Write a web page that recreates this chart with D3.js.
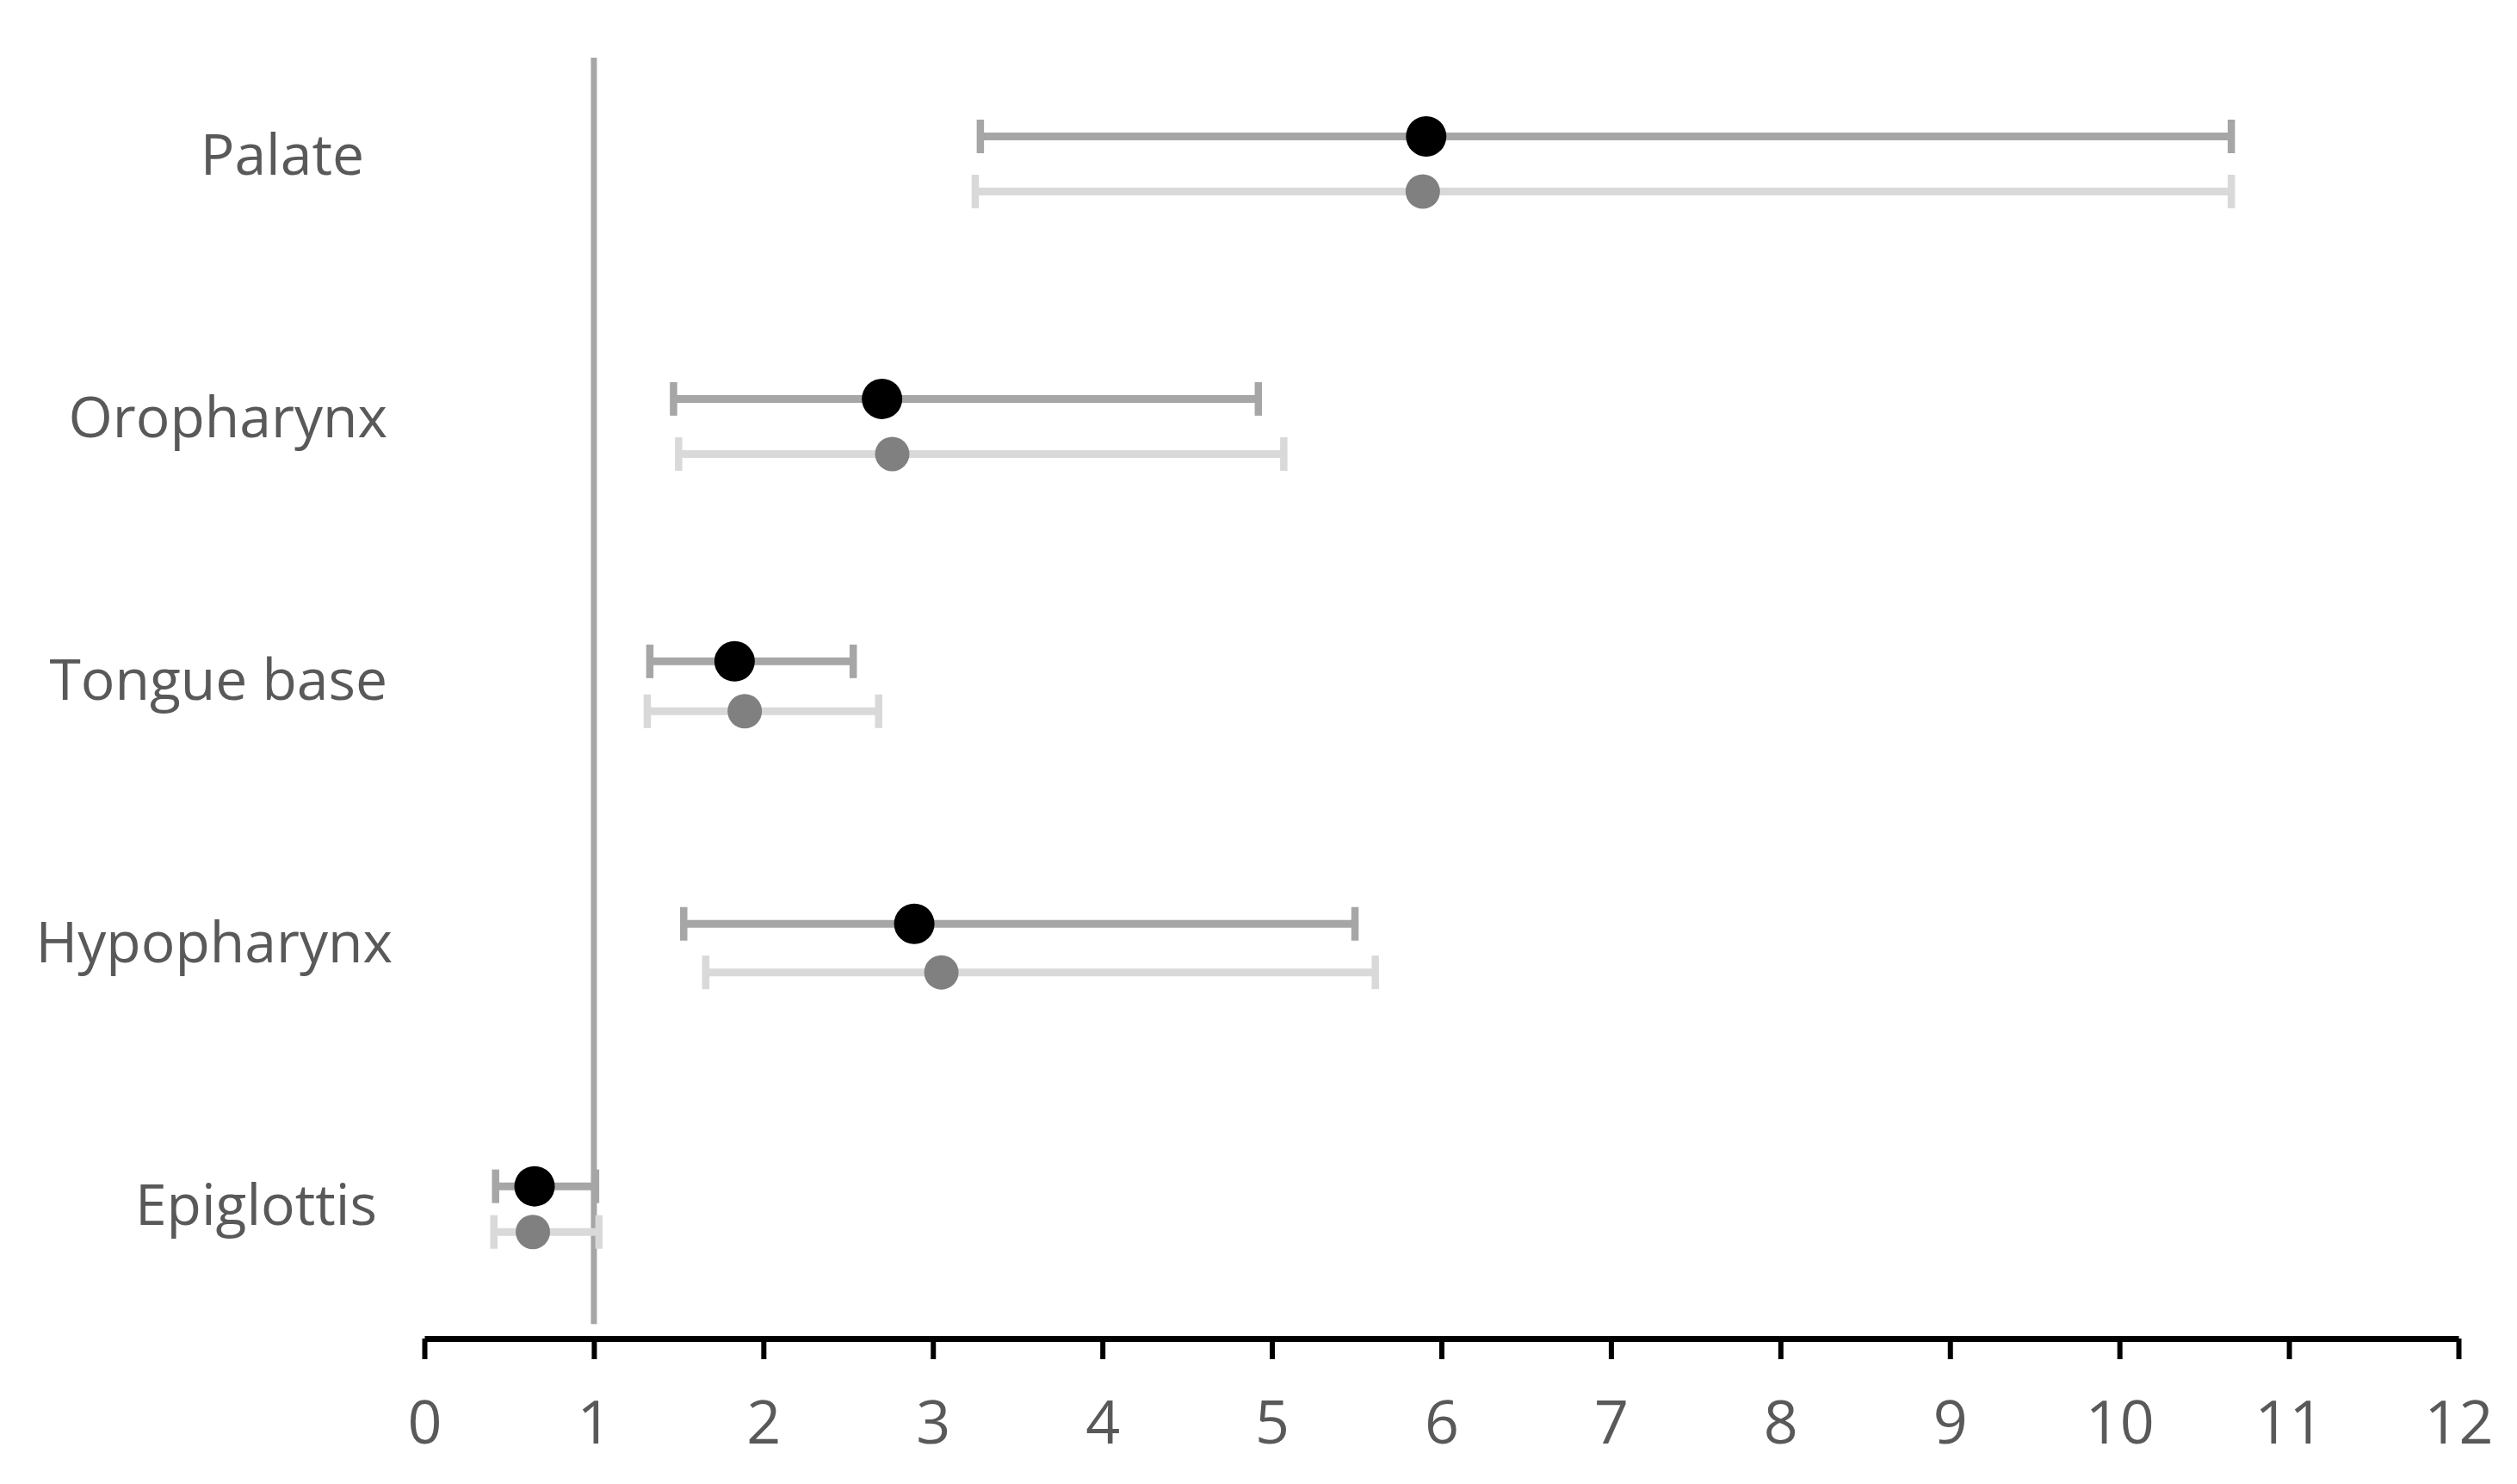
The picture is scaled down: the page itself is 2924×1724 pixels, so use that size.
<!DOCTYPE html>
<html>
<head>
<meta charset="utf-8">
<script src="https://cdn.jsdelivr.net/npm/d3@7"></script>
<style>
  body { margin: 0; background: #fff; }
  text { font-family: "Open Sans", "Noto Sans", sans-serif; fill: #595959; }
</style>
</head>
<body>
<div id="chart"></div>
<script>
// Sites, top to bottom
const sites = ["Palate", "Oropharynx", "Tongue base", "Hypopharynx", "Epiglottis"];

// Row positions on the y scale (scatter values of the original chart)
const rowDark  = [5, 4, 3, 2, 1];
const rowLight = [4.79, 3.79, 2.81, 1.815, 0.826];

// First series (black points, darker bars)
const darkEst = [5.91, 2.70, 1.83, 2.89, 0.65];
const darkLo  = [3.28, 1.47, 1.33, 1.53, 0.42];
const darkHi  = [10.66, 4.92, 2.53, 5.49, 1.01];

// Second series (grey points, lighter bars)
const lightEst = [5.89, 2.76, 1.89, 3.05, 0.64];
const lightLo  = [3.25, 1.50, 1.315, 1.66, 0.41];
const lightHi  = [10.66, 5.07, 2.68, 5.61, 1.03];

const xTicks = [0, 1, 2, 3, 4, 5, 6, 7, 8, 9, 10, 11, 12];
const refValue = 1;

const config = {
  width      : 2924,
  height     : 1724,
  xRange     : [493, 2856],
  yRange     : [1555, 67],
  yDomain    : [0.42, 5.3],
  refBottom  : 0.475,
  tickFont   : 70,
  labelFont  : 66,
  labelRight : 450,
  labelShift : { "Palate": -27, "Epiglottis": -12, "Hypopharynx": 6 },
  capHalf    : 19.5,
  barWidth   : 9,
  capWidth   : 8.5,
};

const svg = d3.select("#chart")
  .append("svg")
    .attr("width", config.width)
    .attr("height", config.height);

const x = d3.scaleLinear().domain([0, 12]).range(config.xRange);
const y = d3.scaleLinear().domain(config.yDomain).range(config.yRange);

// reference line at 1
svg.append("line")
  .attr("x1", x(refValue)).attr("x2", x(refValue))
  .attr("y1", y(config.yDomain[1])).attr("y2", y(config.refBottom))
  .attr("stroke", "#a6a6a6")
  .attr("stroke-width", 7);

// x axis
const xAxis = svg.append("g")
  .attr("transform", "translate(0," + y(config.yDomain[0]) + ")")
  .call(d3.axisBottom(x).tickValues(xTicks).tickSize(24).tickSizeOuter(0).tickPadding(48));

xAxis.select(".domain")
  .attr("stroke", "#000")
  .attr("stroke-width", 7);
xAxis.selectAll(".tick line")
  .attr("stroke", "#000")
  .attr("stroke-width", 6);
xAxis.selectAll(".tick text")
  .attr("fill", "#595959")
  .style("font-size", config.tickFont + "px")
  .style("font-family", "\"Open Sans\", sans-serif");

// site labels
svg.selectAll(".site")
  .data(sites)
  .enter()
  .append("text")
    .attr("class", "site")
    .attr("x", function(d) { return config.labelRight + (config.labelShift[d] || 0) })
    .attr("y", function(d, i) { return y(rowDark[i]) + 45 })
    .attr("text-anchor", "end")
    .style("font-size", config.labelFont + "px")
    .text(function(d) { return d });

function drawSeries(rows, est, lo, hi, barColor, dotColor, r) {
  const g = svg.append("g");
  const data = sites.map(function(s, i) {
    return { site: s, row: rows[i], est: est[i], lo: lo[i], hi: hi[i] }
  });

  g.selectAll(".bar")
    .data(data)
    .enter()
    .append("line")
      .attr("x1", function(d) { return x(d.lo) })
      .attr("x2", function(d) { return x(d.hi) })
      .attr("y1", function(d) { return y(d.row) })
      .attr("y2", function(d) { return y(d.row) })
      .attr("stroke", barColor)
      .attr("stroke-width", config.barWidth);

  ["lo", "hi"].forEach(function(k) {
    g.selectAll(".cap-" + k)
      .data(data)
      .enter()
      .append("line")
        .attr("x1", function(d) { return x(d[k]) })
        .attr("x2", function(d) { return x(d[k]) })
        .attr("y1", function(d) { return y(d.row) - config.capHalf })
        .attr("y2", function(d) { return y(d.row) + config.capHalf })
        .attr("stroke", barColor)
        .attr("stroke-width", config.capWidth);
  });

  g.selectAll(".dot")
    .data(data)
    .enter()
    .append("circle")
      .attr("cx", function(d) { return x(d.est) })
      .attr("cy", function(d) { return y(d.row) })
      .attr("r", r)
      .attr("fill", dotColor);
}

drawSeries(rowLight, lightEst, lightLo, lightHi, "#d9d9d9", "#808080", 20);
drawSeries(rowDark, darkEst, darkLo, darkHi, "#a6a6a6", "#000000", 23.5);
</script>
</body>
</html>
